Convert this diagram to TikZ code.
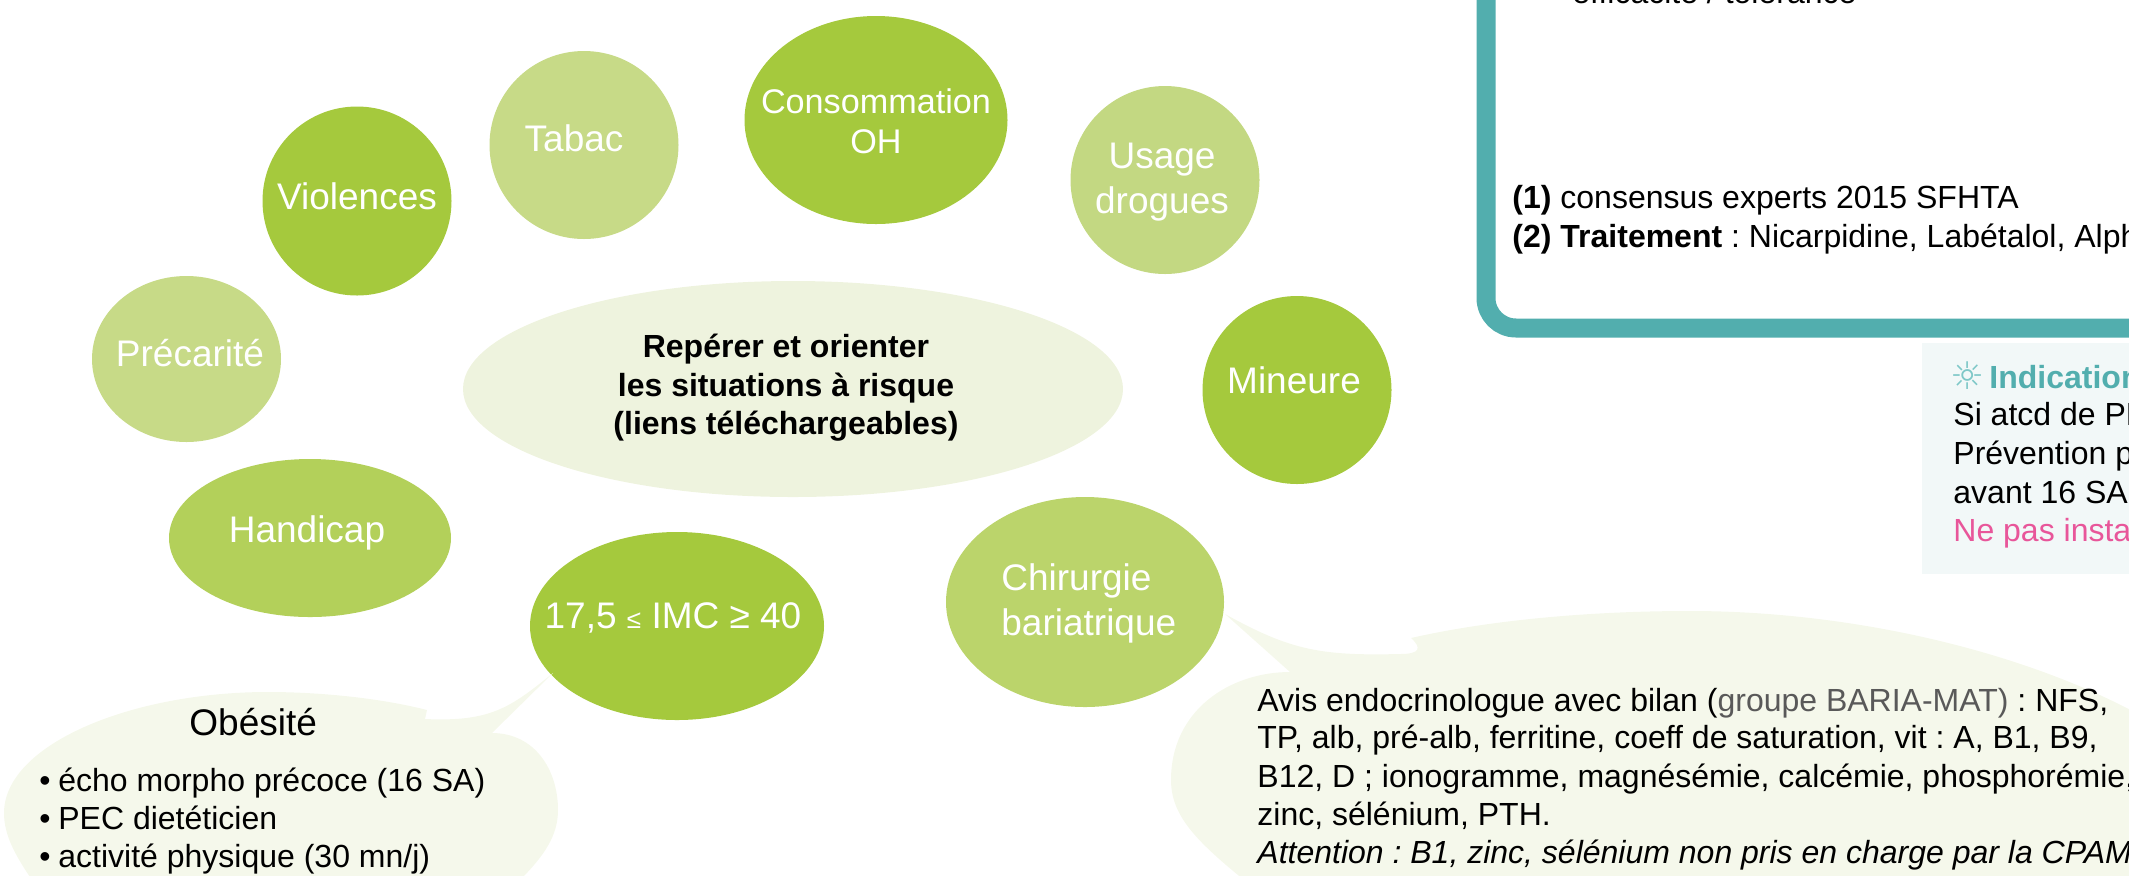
\documentclass[tikz,border=0pt]{standalone}
\usepackage{fontspec}
\setmainfont{Liberation Sans}
\newfontfamily\symfont{DejaVu Sans}
\frenchspacing
\definecolor{gdark}{HTML}{A5C93D}
\definecolor{glight}{HTML}{C7DA87}
\definecolor{gusage}{HTML}{C3D882}
\definecolor{ghand}{HTML}{B3D05A}
\definecolor{gchir}{HTML}{BBD46B}
\definecolor{gcentre}{HTML}{EEF3DE}
\definecolor{gbubble}{HTML}{F5F8EB}
\definecolor{teal}{HTML}{52AEAE}
\definecolor{tealpale}{HTML}{F2F8F8}
\definecolor{sunteal}{HTML}{7FC8C8}
\definecolor{pinktxt}{HTML}{E8569A}
\definecolor{graytxt}{HTML}{595959}
\tikzset{
  wtext/.style={anchor=base,text=white,font=\fontsize{18.5}{22}\selectfont,inner sep=0pt},
  wtextl/.style={anchor=base west,text=white,font=\fontsize{18.5}{22}\selectfont,inner sep=0pt},
  body/.style={anchor=base west,text=black,font=\fontsize{16}{19}\selectfont,inner sep=0pt},
  ctext/.style={anchor=base,text=black,font=\bfseries\fontsize{16}{19}\selectfont,inner sep=0pt},
}
\begin{document}
\begin{tikzpicture}[x=0.5pt,y=-0.5pt]
\useasboundingbox (0,0) rectangle (2129,875);
\clip (0,0) rectangle (2129,875);
% ellipses: centre, half axes in px
\fill[gcentre] (793,389) ellipse [x radius=330,y radius=108];
\fill[glight] (584,145) ellipse [x radius=94.5,y radius=94];
\fill[gdark] (357,201) ellipse [x radius=94.5,y radius=94.5];
\fill[glight] (186.5,359) ellipse [x radius=94.5,y radius=83];
\fill[gdark] (876,120) ellipse [x radius=131.5,y radius=104];
\fill[gusage] (1165,180) ellipse [x radius=94.5,y radius=94];
\fill[gdark] (1297,390) ellipse [x radius=94.5,y radius=94];
\fill[ghand] (310,538) ellipse [x radius=141,y radius=79];
\fill[gdark] (677,626) ellipse [x radius=147,y radius=94];
\fill[gchir] (1085,602) ellipse [x radius=139,y radius=105];
% speech bubble left
\fill[gbubble] (553,673) .. controls (510,708) and (490,722) .. (425,719)
  -- (427,710) .. controls (380,698) and (320,692) .. (268,692)
  .. controls (130,692) and (4,745) .. (4,813)
  .. controls (4,835) and (15,855) .. (32,880)
  -- (520,880) .. controls (545,855) and (558,835) .. (558,810)
  .. controls (558,770) and (535,733) .. (492,733) -- cycle;
% speech bubble right
\fill[gbubble] (1225,614) .. controls (1290,650) and (1320,656) .. (1400,654)
  .. controls (1420,654) and (1422,648) .. (1411,638)
  .. controls (1490,620) and (1590,611) .. (1690,611)
  .. controls (1850,611) and (2020,650) .. (2140,715)
  -- (2140,880) -- (1244,880) .. controls (1195,840) and (1171,815) .. (1171,780)
  .. controls (1171,710) and (1230,672) .. (1290,672) -- cycle;
% teal frame
\draw[teal,line width=9.5pt,rounded corners=15pt] (2200,-100) -- (1486,-100) -- (1486,328) -- (2200,328);
% pale note
\fill[tealpale] (1922,343) rectangle (2140,574);
% texts
\node[ctext] (c1) at (786,357) {Repérer et orienter};
\node[ctext] (c2) at (786,396) {les situations à risque};
\node[ctext] (c3) at (786,434) {(liens téléchargeables)};
\node[wtext] (tabac) at (574,151) {Tabac};
\node[wtext] (viol) at (357,209) {Violences};
\node[wtext] (prec) at (190,366) {Précarité};
\node[wtext,font=\fontsize{17.1}{20}\selectfont] (cons) at (876,113) {Consommation};
\node[wtext,font=\fontsize{17.1}{20}\selectfont] (oh) at (876,153) {OH};
\node[wtext] (usage) at (1162,168) {Usage};
\node[wtext] (drog) at (1162,213) {drogues};
\node[wtext] (mine) at (1294,393) {Mineure};
\node[wtext] (hand) at (307,542) {Handicap};
\node[wtext] (imc) at (673,628) {17,5 {\fontsize{13}{13}\selectfont ≤} IMC ≥ 40};
\node[wtextl] (chir) at (1001,590) {Chirurgie};
\node[wtextl] (bari) at (1001,635) {bariatrique};
\node[body,font=\fontsize{18.5}{22}\selectfont] (ob) at (189,735) {Obésité};
\node[body] (o0) at (39,791) {•};
\node[body] (o1) at (58,791) {écho morpho précoce (16 SA)};
\node[body] (o0b) at (39,829) {•};
\node[body] (o2) at (58,829) {PEC dietéticien};
\node[body] (o0c) at (39,867) {•};
\node[body] (o3) at (58,867) {activité physique (30 mn/j)};
\node[body] (b1) at (1257,711) {Avis endocrinologue avec bilan ({\color{graytxt}groupe BARIA-MAT)} : NFS,};
\node[body] (b2) at (1257,748) {TP, alb, pré-alb, ferritine, coeff de saturation, vit : A, B1, B9,};
\node[body] (b3) at (1257,787) {B12, D ; ionogramme, magnésémie, calcémie, phosphorémie,};
\node[body] (b4) at (1257,825) {zinc, sélénium, PTH.};
\node[body,font=\itshape\fontsize{16}{19}\selectfont] (b5) at (1257,863) {Attention : B1, zinc, sélénium non pris en charge par la CPAM};
\node[body] (t0) at (1572,3) {efficacité / tolérance};
\node[body] (t1) at (1512,208) {\textbf{(1)} consensus experts 2015 SFHTA};
\node[body] (t2) at (1512,247) {\textbf{(2) Traitement} : Nicarpidine, Labétalol, Alph};
\node[body,text=sunteal,font=\symfont\fontsize{19}{19}\selectfont] (sun) at (1950,389) {☼};
\node[body,text=teal,font=\bfseries\fontsize{16}{19}\selectfont] (i0) at (1989,388) {Indication};
\node[body] (i1) at (1953,425) {Si atcd de PE};
\node[body] (i2) at (1953,464) {Prévention p};
\node[body] (i3) at (1953,503) {avant 16 SA};
\node[body,text=pinktxt] (i4) at (1953,541) {Ne pas insta};
\end{tikzpicture}
\end{document}
